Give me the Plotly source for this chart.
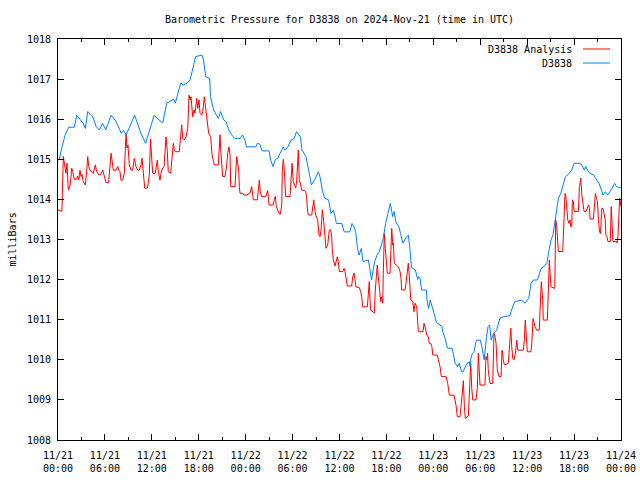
import plotly.graph_objects as go
import pandas as pd

# ---------------- data ----------------
start_time = "2024-11-21 00:00"

analysis_hours = [
    0.0, 0.5, 0.68, 0.93, 1.02, 1.15, 1.24, 1.32, 1.57, 1.75, 1.88, 2.08, 2.30, 2.52, 2.65, 2.81, 2.94, 3.07, 3.24, 3.49,
    3.67, 3.80, 3.93, 4.09, 4.35, 4.51, 4.77, 4.95, 5.21, 5.50, 5.72, 5.92, 6.14, 6.48, 6.65, 6.78, 6.91, 7.07, 7.42, 7.64,
    7.76, 7.93, 8.06, 8.27, 8.48, 8.70, 8.82, 8.95, 9.12, 9.34, 9.55, 9.76, 9.98, 10.19, 10.40, 10.62, 10.74, 10.91, 11.09, 11.43,
    11.68, 11.83, 11.98, 12.11, 12.44, 12.70, 12.83, 13.04, 13.17, 13.39, 13.56, 13.81, 13.98, 14.10, 14.41, 14.58, 14.75, 14.88, 15.00, 15.51,
    15.69, 15.82, 15.95, 16.15, 16.37, 16.59, 16.76, 16.88, 17.01, 17.10, 17.23, 17.40, 17.52, 17.74, 17.87, 18.03, 18.16, 18.38, 18.51, 18.71,
    18.84, 19.02, 19.09, 19.27, 19.53, 19.70, 19.86, 19.99, 20.50, 20.63, 20.72, 20.81, 20.94, 21.06, 21.36, 21.58, 21.70, 21.87, 22.00, 22.09,
    22.64, 22.76, 22.85, 22.98, 23.11, 23.19, 23.28, 23.62, 23.79, 24.13, 24.34, 24.56, 24.77, 24.85, 24.98, 25.49, 25.62, 25.75, 25.87, 26.05,
    26.56, 26.69, 26.82, 26.99, 27.53, 27.66, 27.79, 27.92, 28.10, 28.26, 28.43, 28.61, 28.69, 28.82, 28.94, 29.12, 29.67, 29.80, 29.93, 30.09,
    30.22, 30.40, 30.53, 30.66, 30.73, 30.86, 30.95, 31.17, 31.50, 31.68, 31.80, 31.93, 32.01, 32.45, 32.53, 32.71, 32.79, 32.96, 33.21, 33.38,
    33.51, 33.64, 33.73, 33.80, 33.93, 34.06, 34.15, 34.27, 34.49, 34.57, 34.70, 34.88, 35.00, 35.08, 35.21, 35.43, 35.56, 35.72, 35.85, 35.98,
    36.41, 36.58, 36.71, 36.84, 37.00, 37.56, 37.69, 37.86, 37.98, 38.11, 38.53, 38.71, 38.84, 38.97, 39.56, 39.69, 39.81, 39.90, 39.99, 40.25,
    40.45, 40.58, 40.76, 40.83, 40.96, 41.09, 41.27, 41.39, 41.53, 41.60, 41.73, 41.86, 41.95, 42.04, 42.12, 42.46, 42.59, 42.68, 42.81, 42.89,
    43.01, 43.32, 43.52, 43.74, 43.87, 43.95, 44.38, 44.50, 44.67, 44.80, 44.93, 45.11, 45.37, 45.53, 45.66, 45.88, 46.00, 46.08, 46.68, 46.81,
    46.94, 47.16, 47.36, 47.49, 47.67, 47.81, 47.93, 48.51, 48.64, 48.86, 49.03, 49.63, 49.84, 50.05, 50.64, 50.77, 50.90, 51.07, 51.41, 51.54,
    51.67, 51.84, 51.97, 52.09, 52.48, 52.60, 52.78, 52.91, 53.04, 53.46, 53.63, 53.75, 53.88, 53.97, 54.60, 54.73, 54.82, 54.94, 55.02, 55.24,
    55.59, 55.76, 55.89, 56.02, 56.18, 56.40, 56.66, 56.79, 56.95, 57.08, 57.59, 57.72, 57.90, 58.03, 58.15, 58.32, 58.49, 58.67, 58.80, 59.51,
    59.64, 59.76, 59.89, 60.02, 60.49, 60.62, 60.75, 60.88, 61.00, 61.22, 61.55, 61.64, 61.81, 61.99, 62.06, 62.58, 62.71, 62.84, 62.93, 63.05,
    63.53, 63.65, 63.78, 63.86, 63.99, 64.55, 64.71, 64.84, 64.93, 65.06, 65.19, 65.35, 65.48, 65.57, 65.70, 65.78, 65.91, 66.00, 66.55, 66.68,
    66.86, 66.99, 67.11, 67.28, 67.54, 67.71, 67.84, 67.96, 68.05, 68.47, 68.60, 68.73, 68.86, 68.99, 69.12, 69.25, 69.38, 69.46, 69.55, 69.69,
    69.86, 69.98, 70.07, 70.20, 70.33, 70.63, 70.75, 70.88, 70.97, 71.40, 71.49, 71.62, 71.75, 71.83, 72.00,
]
analysis_mb = [
    1013.74, 1013.70, 1015.07, 1014.80, 1014.65, 1014.90, 1014.57, 1014.23, 1014.36, 1014.78, 1014.70, 1014.50, 1014.50, 1014.58, 1014.48, 1014.73, 1014.57, 1014.62, 1014.44, 1014.36,
    1014.70, 1015.07, 1014.82, 1014.73, 1014.69, 1014.65, 1014.86, 1014.69, 1014.61, 1014.63, 1014.73, 1014.57, 1014.42, 1014.42, 1014.94, 1015.15, 1014.98, 1014.73, 1014.73, 1014.82,
    1014.73, 1014.69, 1014.48, 1014.48, 1014.65, 1015.65, 1015.28, 1015.36, 1014.86, 1014.73, 1014.73, 1015.03, 1014.82, 1014.73, 1014.73, 1014.86, 1015.03, 1014.69, 1014.28, 1014.28,
    1014.60, 1015.50, 1015.00, 1014.65, 1014.65, 1014.98, 1014.70, 1014.48, 1014.65, 1014.78, 1014.82, 1015.56, 1015.20, 1014.69, 1014.65, 1014.98, 1015.40, 1015.23, 1015.19, 1015.19,
    1015.56, 1015.86, 1015.52, 1015.48, 1015.56, 1015.77, 1016.60, 1016.48, 1016.56, 1016.40, 1016.06, 1016.23, 1016.15, 1016.52, 1016.27, 1016.48, 1016.15, 1016.10, 1016.19, 1016.56,
    1016.35, 1016.02, 1015.90, 1015.65, 1015.56, 1015.11, 1014.98, 1014.86, 1014.86, 1015.44, 1015.61, 1015.23, 1014.90, 1014.57, 1014.57, 1014.86, 1015.15, 1015.31, 1015.11, 1014.32,
    1014.32, 1014.80, 1015.07, 1014.90, 1014.73, 1014.32, 1014.15, 1014.15, 1014.11, 1014.11, 1014.13, 1014.16, 1014.32, 1014.20, 1013.99, 1013.99, 1014.36, 1014.48, 1014.19, 1014.07,
    1014.07, 1014.19, 1014.22, 1013.86, 1013.86, 1014.00, 1014.08, 1013.82, 1013.74, 1013.65, 1013.63, 1013.86, 1014.73, 1015.00, 1014.73, 1014.07, 1014.07, 1014.65, 1014.90, 1014.44,
    1014.36, 1014.28, 1014.48, 1015.19, 1015.23, 1014.44, 1014.44, 1014.23, 1014.23, 1014.19, 1014.03, 1013.70, 1013.61, 1013.61, 1013.78, 1013.99, 1013.82, 1013.61, 1013.49, 1013.11,
    1013.07, 1013.24, 1013.49, 1013.74, 1013.57, 1013.24, 1012.95, 1012.78, 1012.86, 1013.07, 1013.24, 1013.24, 1013.07, 1012.74, 1012.49, 1012.34, 1012.45, 1012.57, 1012.45, 1012.20,
    1012.20, 1012.28, 1012.20, 1012.07, 1011.84, 1011.84, 1012.07, 1012.16, 1011.91, 1011.82, 1011.80, 1011.70, 1011.57, 1011.32, 1011.32, 1011.74, 1011.95, 1011.49, 1011.24, 1011.20,
    1011.16, 1011.74, 1012.11, 1012.36, 1012.07, 1011.74, 1011.45, 1011.57, 1011.41, 1012.16, 1013.15, 1012.78, 1012.49, 1012.24, 1012.16, 1012.16, 1012.66, 1013.28, 1012.86, 1012.91,
    1012.41, 1012.36, 1012.32, 1012.20, 1012.03, 1011.74, 1011.74, 1011.90, 1012.32, 1012.41, 1012.07, 1011.49, 1011.45, 1011.20, 1011.41, 1011.32, 1010.95, 1010.70, 1010.70, 1010.91,
    1010.82, 1010.62, 1010.57, 1010.41, 1010.41, 1010.33, 1010.12, 1010.12, 1010.00, 1009.83, 1009.58, 1009.58, 1009.41, 1009.12, 1009.12, 1009.00, 1008.87, 1008.58, 1008.58, 1008.83,
    1009.10, 1009.48, 1008.83, 1008.54, 1008.60, 1009.25, 1009.90, 1009.30, 1009.00, 1009.00, 1009.30, 1010.16, 1009.60, 1009.37, 1009.37, 1010.08, 1010.00, 1010.16, 1009.75, 1009.41,
    1009.41, 1010.66, 1010.58, 1010.41, 1009.75, 1009.58, 1009.58, 1010.24, 1010.00, 1009.87, 1009.91, 1010.33, 1010.79, 1010.33, 1010.04, 1010.00, 1010.16, 1010.49, 1010.24, 1010.24,
    1010.49, 1010.99, 1010.60, 1010.20, 1010.20, 1010.49, 1011.03, 1010.87, 1010.83, 1010.74, 1010.74, 1011.20, 1011.95, 1011.49, 1010.99, 1010.99, 1011.66, 1012.49, 1012.16, 1011.82,
    1011.78, 1013.49, 1013.32, 1013.00, 1012.70, 1012.70, 1013.32, 1014.15, 1014.11, 1013.70, 1013.49, 1013.40, 1013.49, 1013.32, 1013.32, 1013.99, 1013.94, 1013.70, 1013.70, 1014.32,
    1014.53, 1014.11, 1013.94, 1013.70, 1013.70, 1013.82, 1013.86, 1013.78, 1013.51, 1013.51, 1013.90, 1014.15, 1014.03, 1013.94, 1013.49, 1013.19, 1013.15, 1013.36, 1013.78, 1013.78,
    1013.61, 1013.49, 1013.11, 1013.07, 1012.95, 1012.95, 1013.82, 1013.15, 1012.95, 1012.95, 1012.91, 1013.10, 1013.99, 1014.03, 1013.82,
]

station_hours = [
    0.0, 0.17, 0.5, 0.9, 1.37, 2.08, 2.4, 2.8, 3.2, 3.5, 3.8, 4.4, 4.9, 5.3, 5.7, 6.1, 6.8, 7.4, 8.1, 8.4,
    8.7, 9.8, 10.6, 11.2, 12.3, 12.8, 13.4, 13.9, 14.8, 15.0, 15.5, 15.7, 16.0, 16.5, 16.9, 17.3, 17.6, 18.4, 18.6, 18.9,
    19.4, 19.5, 19.9, 20.5, 20.8, 21.2, 21.5, 21.8, 22.2, 22.6, 23.3, 23.6, 23.9, 24.1, 25.3, 25.5, 25.8, 26.1, 26.98, 27.2,
    27.5, 27.8, 28.1, 28.4, 28.8, 29.0, 29.4, 29.8, 30.2, 30.5, 31.0, 31.2, 31.7, 32.1, 32.4, 32.8, 33.3, 33.5, 33.8, 34.1,
    34.6, 34.9, 35.2, 35.4, 35.6, 36.3, 36.6, 37.3, 37.6, 37.9, 38.1, 38.3, 38.5, 38.8, 39.0, 39.7, 39.9, 40.1, 40.3, 40.5,
    40.8, 41.1, 41.6, 41.9, 42.2, 42.5, 42.8, 43.0, 43.2, 43.6, 43.8, 44.1, 44.6, 44.8, 45.0, 45.2, 45.7, 46.0, 46.1, 46.3,
    46.5, 47.1, 47.2, 47.4, 47.6, 47.8, 48.1, 48.4, 48.8, 49.1, 49.2, 49.5, 49.8, 50.4, 50.5, 50.8, 51.1, 51.3, 51.5, 51.6,
    51.8, 52.0, 52.3, 52.6, 52.7, 52.8, 53.0, 53.2, 53.5, 54.0, 54.2, 54.5, 54.6, 54.8, 55.0, 55.2, 55.4, 55.7, 56.1, 56.3,
    56.5, 56.9, 57.8, 58.0, 58.4, 59.3, 59.7, 60.2, 60.5, 60.8, 61.3, 61.5, 61.8, 62.1, 62.5, 62.8, 63.05, 63.3, 63.8, 64.0,
    64.3, 64.6, 64.9, 65.3, 65.7, 66.0, 66.8, 67.1, 67.3, 67.5, 67.7, 68.0, 68.5, 68.9, 69.2, 69.5, 69.7, 70.0, 70.3, 70.7,
    71.2, 71.4, 71.7, 72.0,
]
station_mb = [
    1014.98, 1015.00, 1015.30, 1015.60, 1015.80, 1015.80, 1016.10, 1016.00, 1015.90, 1015.77, 1016.19, 1016.08, 1015.81, 1015.73, 1015.90, 1015.73, 1016.10, 1015.95, 1015.65, 1015.72,
    1015.60, 1016.10, 1015.65, 1015.40, 1016.10, 1016.00, 1015.91, 1016.40, 1016.50, 1016.40, 1016.77, 1016.90, 1016.85, 1016.90, 1016.98, 1017.31, 1017.56, 1017.60, 1017.48, 1017.06,
    1017.02, 1016.56, 1016.23, 1016.02, 1016.19, 1015.98, 1015.94, 1015.75, 1015.61, 1015.52, 1015.52, 1015.61, 1015.48, 1015.31, 1015.31, 1015.40, 1015.38, 1015.21, 1015.21, 1014.98,
    1014.82, 1015.00, 1015.02, 1015.15, 1015.31, 1015.23, 1015.31, 1015.48, 1015.52, 1015.69, 1015.56, 1015.23, 1015.07, 1014.69, 1014.36, 1014.48, 1014.69, 1014.57, 1014.23, 1014.03,
    1013.99, 1013.65, 1013.73, 1013.60, 1013.40, 1013.40, 1013.19, 1013.19, 1013.40, 1013.30, 1013.15, 1012.78, 1012.61, 1012.78, 1012.45, 1012.49, 1012.28, 1011.99, 1012.24, 1012.45,
    1012.61, 1012.70, 1013.03, 1013.40, 1013.65, 1013.90, 1013.57, 1013.70, 1013.44, 1013.32, 1013.15, 1012.91, 1013.07, 1013.11, 1012.78, 1012.30, 1012.24, 1012.00, 1012.08, 1012.03,
    1011.74, 1011.74, 1011.49, 1011.28, 1011.49, 1011.37, 1011.15, 1010.93, 1010.87, 1010.83, 1010.70, 1010.54, 1010.29, 1010.29, 1010.20, 1009.91, 1009.83, 1009.91, 1009.79, 1009.70,
    1009.70, 1009.79, 1009.91, 1009.95, 1009.83, 1010.03, 1010.16, 1010.20, 1010.49, 1010.49, 1010.33, 1010.00, 1010.25, 1010.58, 1010.83, 1010.87, 1010.49, 1010.66, 1010.74, 1010.87,
    1011.03, 1011.07, 1011.10, 1011.24, 1011.45, 1011.49, 1011.41, 1011.53, 1011.91, 1011.99, 1011.99, 1012.11, 1012.28, 1012.32, 1012.40, 1012.74, 1012.99, 1013.11, 1013.74, 1014.03,
    1014.15, 1014.40, 1014.57, 1014.63, 1014.73, 1014.90, 1014.90, 1014.82, 1014.73, 1014.82, 1014.73, 1014.65, 1014.61, 1014.48, 1014.40, 1014.23, 1014.11, 1014.19, 1014.11, 1014.23,
    1014.40, 1014.32, 1014.30, 1014.30,
]

tick_hours = [0, 6, 12, 18, 24, 30, 36, 42, 48, 54, 60, 66, 72]
tick_labels = [
    "11/21<br>00:00", "11/21<br>06:00", "11/21<br>12:00", "11/21<br>18:00",
    "11/22<br>00:00", "11/22<br>06:00", "11/22<br>12:00", "11/22<br>18:00",
    "11/23<br>00:00", "11/23<br>06:00", "11/23<br>12:00", "11/23<br>18:00",
    "11/24<br>00:00",
]
y_ticks = [1008, 1009, 1010, 1011, 1012, 1013, 1014, 1015, 1016, 1017, 1018]

series_names = ["D3838 Analysis", "D3838"]
series_colors = ["#ff0000", "#0080ff"]

# ---------------- build ----------------
t0 = pd.Timestamp(start_time)
def to_time(hours):
    return [t0 + pd.Timedelta(hours=h) for h in hours]

FONT = "DejaVu Sans Mono"

fig = go.Figure()
fig.add_trace(go.Scatter(x=to_time(analysis_hours), y=analysis_mb, mode="lines",
                         line=dict(color=series_colors[0], width=1), name=series_names[0]))
fig.add_trace(go.Scatter(x=to_time(station_hours), y=station_mb, mode="lines",
                         line=dict(color=series_colors[1], width=1), name=series_names[1]))

fig.update_layout(
    width=640, height=480,
    margin=dict(l=58, r=19, t=39, b=40),
    paper_bgcolor="white", plot_bgcolor="white",
    showlegend=False,
    font=dict(family=FONT, size=10, color="black"),
    title=dict(text="Barometric Pressure for D3838 on 2024-Nov-21 (time in UTC)",
               xref="paper", x=0.5, xanchor="center", y=1 - 19 / 480, yanchor="middle",
               font=dict(family=FONT, size=10, color="black")),
)
fig.update_xaxes(
    type="date", automargin=False,
    range=[t0, t0 + pd.Timedelta(hours=72)],
    tickvals=to_time(tick_hours), ticktext=tick_labels,
    ticks="inside", ticklen=6, tickcolor="black", tickwidth=1,
    ticklabelstandoff=6,
    minor=dict(ticks="inside", ticklen=3, dtick=3 * 3600 * 1000, tick0=t0, tickcolor="black"),
    showline=True, linecolor="black", linewidth=1, mirror="ticks",
    showgrid=False, zeroline=False,
    tickfont=dict(family=FONT, size=10),
)
fig.update_yaxes(
    automargin=False,
    range=[1008, 1018],
    tickvals=y_ticks,
    ticks="inside", ticklen=6, tickcolor="black", tickwidth=1,
    ticklabelstandoff=4,
    showline=True, linecolor="black", linewidth=1, mirror="ticks",
    showgrid=False, zeroline=False,
    tickfont=dict(family=FONT, size=10),
)

# y axis label placed like gnuplot's
fig.add_annotation(xref="paper", yref="paper", x=(12 - 58) / 563, y=0.5, text="milliBars",
                   textangle=-90, showarrow=False, xanchor="center", yanchor="middle",
                   font=dict(family=FONT, size=10, color="black"))

# gnuplot-style key (text right-aligned, sample line on the right)
key_y = [1 - (49 - 39) / 401, 1 - (63 - 39) / 401]
for name, color, ky in zip(series_names, series_colors, key_y):
    fig.add_annotation(xref="paper", yref="paper", x=(574 - 58) / 563, y=ky, text=name,
                       showarrow=False, xanchor="right", yanchor="middle",
                       font=dict(family=FONT, size=10, color="black"))
    fig.add_shape(type="line", xref="paper", yref="paper",
                  x0=(583 - 58) / 563, x1=(610 - 58) / 563, y0=ky, y1=ky,
                  line=dict(color=color, width=1))

fig.write_html("out.html", config={"displayModeBar": False},
               post_script="document.body.style.margin='0';")
